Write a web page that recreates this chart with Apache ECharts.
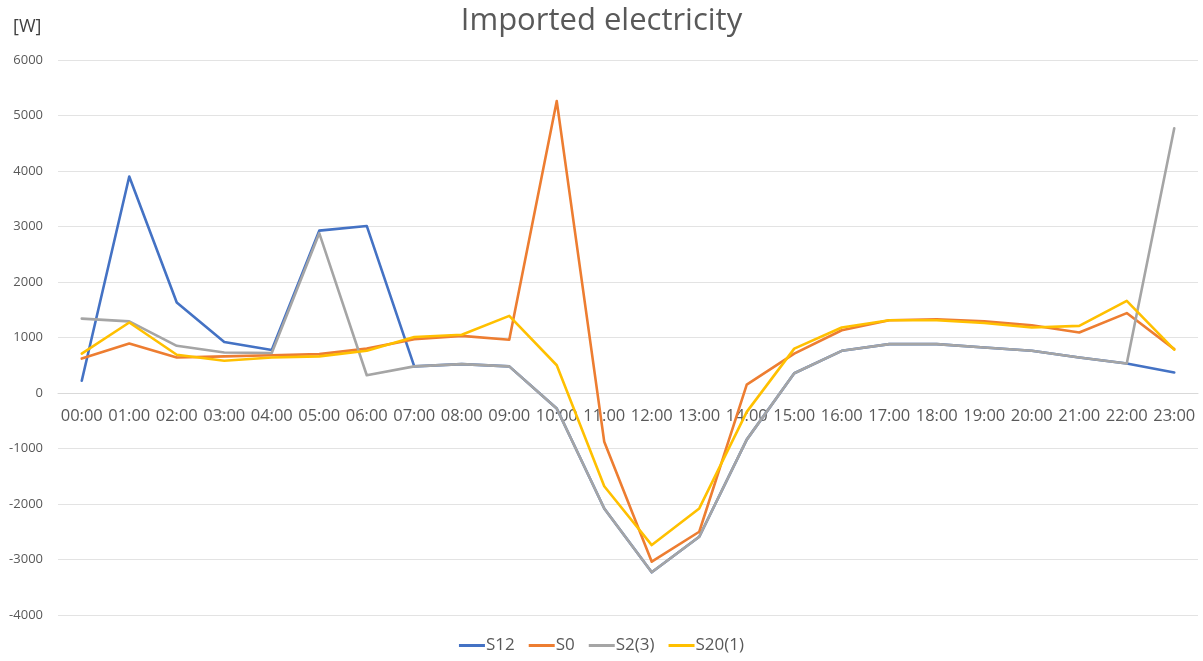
<!DOCTYPE html>
<html>
<head>
<meta charset="utf-8">
<script src="https://cdn.jsdelivr.net/npm/echarts@6/dist/echarts.min.js"></script>
<style>
  html, body { margin: 0; padding: 0; background: #ffffff; }
  #chart { width: 1203px; height: 661px; }
</style>
</head>
<body>
<div id="chart"></div>
<script>
// Hourly time slots
const hours = ['00:00','01:00','02:00','03:00','04:00','05:00','06:00','07:00','08:00','09:00','10:00','11:00',
               '12:00','13:00','14:00','15:00','16:00','17:00','18:00','19:00','20:00','21:00','22:00','23:00'];

// Imported electricity per scenario [W]
const s12  = [220, 3900, 1630, 920, 775, 2925, 3010, 480, 520, 480, -280, -2080,
              -3230, -2590, -840, 355, 760, 880, 880, 820, 760, 640, 530, 370];
const s0   = [620, 890, 640, 660, 680, 700, 800, 970, 1030, 960, 5260, -880,
              -3040, -2500, 150, 710, 1130, 1310, 1330, 1290, 1220, 1090, 1440, 790];
const s2_3 = [1340, 1290, 850, 730, 720, 2880, 320, 480, 520, 480, -280, -2080,
              -3230, -2590, -840, 355, 760, 880, 880, 820, 760, 640, 530, 4770];
const s20_1 = [710, 1270, 690, 580, 640, 660, 760, 1010, 1050, 1390, 500, -1680,
               -2740, -2080, -340, 800, 1180, 1310, 1310, 1260, 1180, 1210, 1660, 780];

const seriesNames = ['S12', 'S0', 'S2(3)', 'S20(1)'];
const seriesData = [s12, s0, s2_3, s20_1];
const colors = ['#4472C4', '#ED7D31', '#A5A5A5', '#FFC000'];

// Value axis range
const Y_MIN = -4000;
const Y_MAX = 6000;
const Y_STEP = 1000;

const FONT = '"Open Sans", "Noto Sans", sans-serif';

const CHART_W = 1203, CHART_H = 661;
const GRID = { left: 58, right: 5, top: 60, bottom: 46 };
const plotHeight = CHART_H - GRID.top - GRID.bottom;
// Lift the category axis from the bottom edge up to the zero line
const zeroOffset = -plotHeight * (0 - Y_MIN) / (Y_MAX - Y_MIN);

const chart = echarts.init(document.getElementById('chart'), null, { renderer: 'canvas' });

chart.setOption({
  animation: false,
  backgroundColor: '#ffffff',
  color: colors,
  title: [
    {
      text: 'Imported electricity',
      left: 'center',
      top: 1,
      textStyle: { fontFamily: FONT, fontSize: 31, fontWeight: 'normal', color: '#595959' }
    },
    {
      text: '[W]',
      left: 8,
      top: 13,
      textStyle: { fontFamily: FONT, fontSize: 18, fontWeight: 'normal', color: '#404040' }
    }
  ],
  legend: {
    bottom: 2,
    left: 'center',
    icon: 'rect',
    itemWidth: 26,
    itemHeight: 3,
    itemGap: 14,
    textStyle: { fontFamily: FONT, fontSize: 17, color: '#595959', padding: [0, 0, 0, -4] },
    data: seriesNames
  },
  grid: Object.assign({ containLabel: false }, GRID),
  xAxis: {
    type: 'category',
    data: hours,
    boundaryGap: true,
    position: 'bottom',
    offset: zeroOffset,
    axisLine: { onZero: false, lineStyle: { color: '#d9d9d9', width: 1 } },
    axisTick: { show: false },
    axisLabel: { fontFamily: FONT, fontSize: 16.5, color: '#595959', margin: 15, interval: 0 },
    splitLine: { show: false }
  },
  yAxis: {
    type: 'value',
    min: Y_MIN,
    max: Y_MAX,
    interval: Y_STEP,
    axisLine: { show: false },
    axisTick: { show: false },
    axisLabel: { fontFamily: FONT, fontSize: 13, color: '#595959', margin: 15, formatter: v => String(v) },
    splitLine: { lineStyle: { color: '#e3e3e3', width: 1 } }
  },
  series: seriesNames.map((name, i) => ({
    name: name,
    type: 'line',
    data: seriesData[i],
    symbol: 'none',
    lineStyle: { width: 2.6, color: colors[i], join: 'round', cap: 'round' },
    itemStyle: { color: colors[i] },
    z: 2 + i
  }))
});
</script>
</body>
</html>
